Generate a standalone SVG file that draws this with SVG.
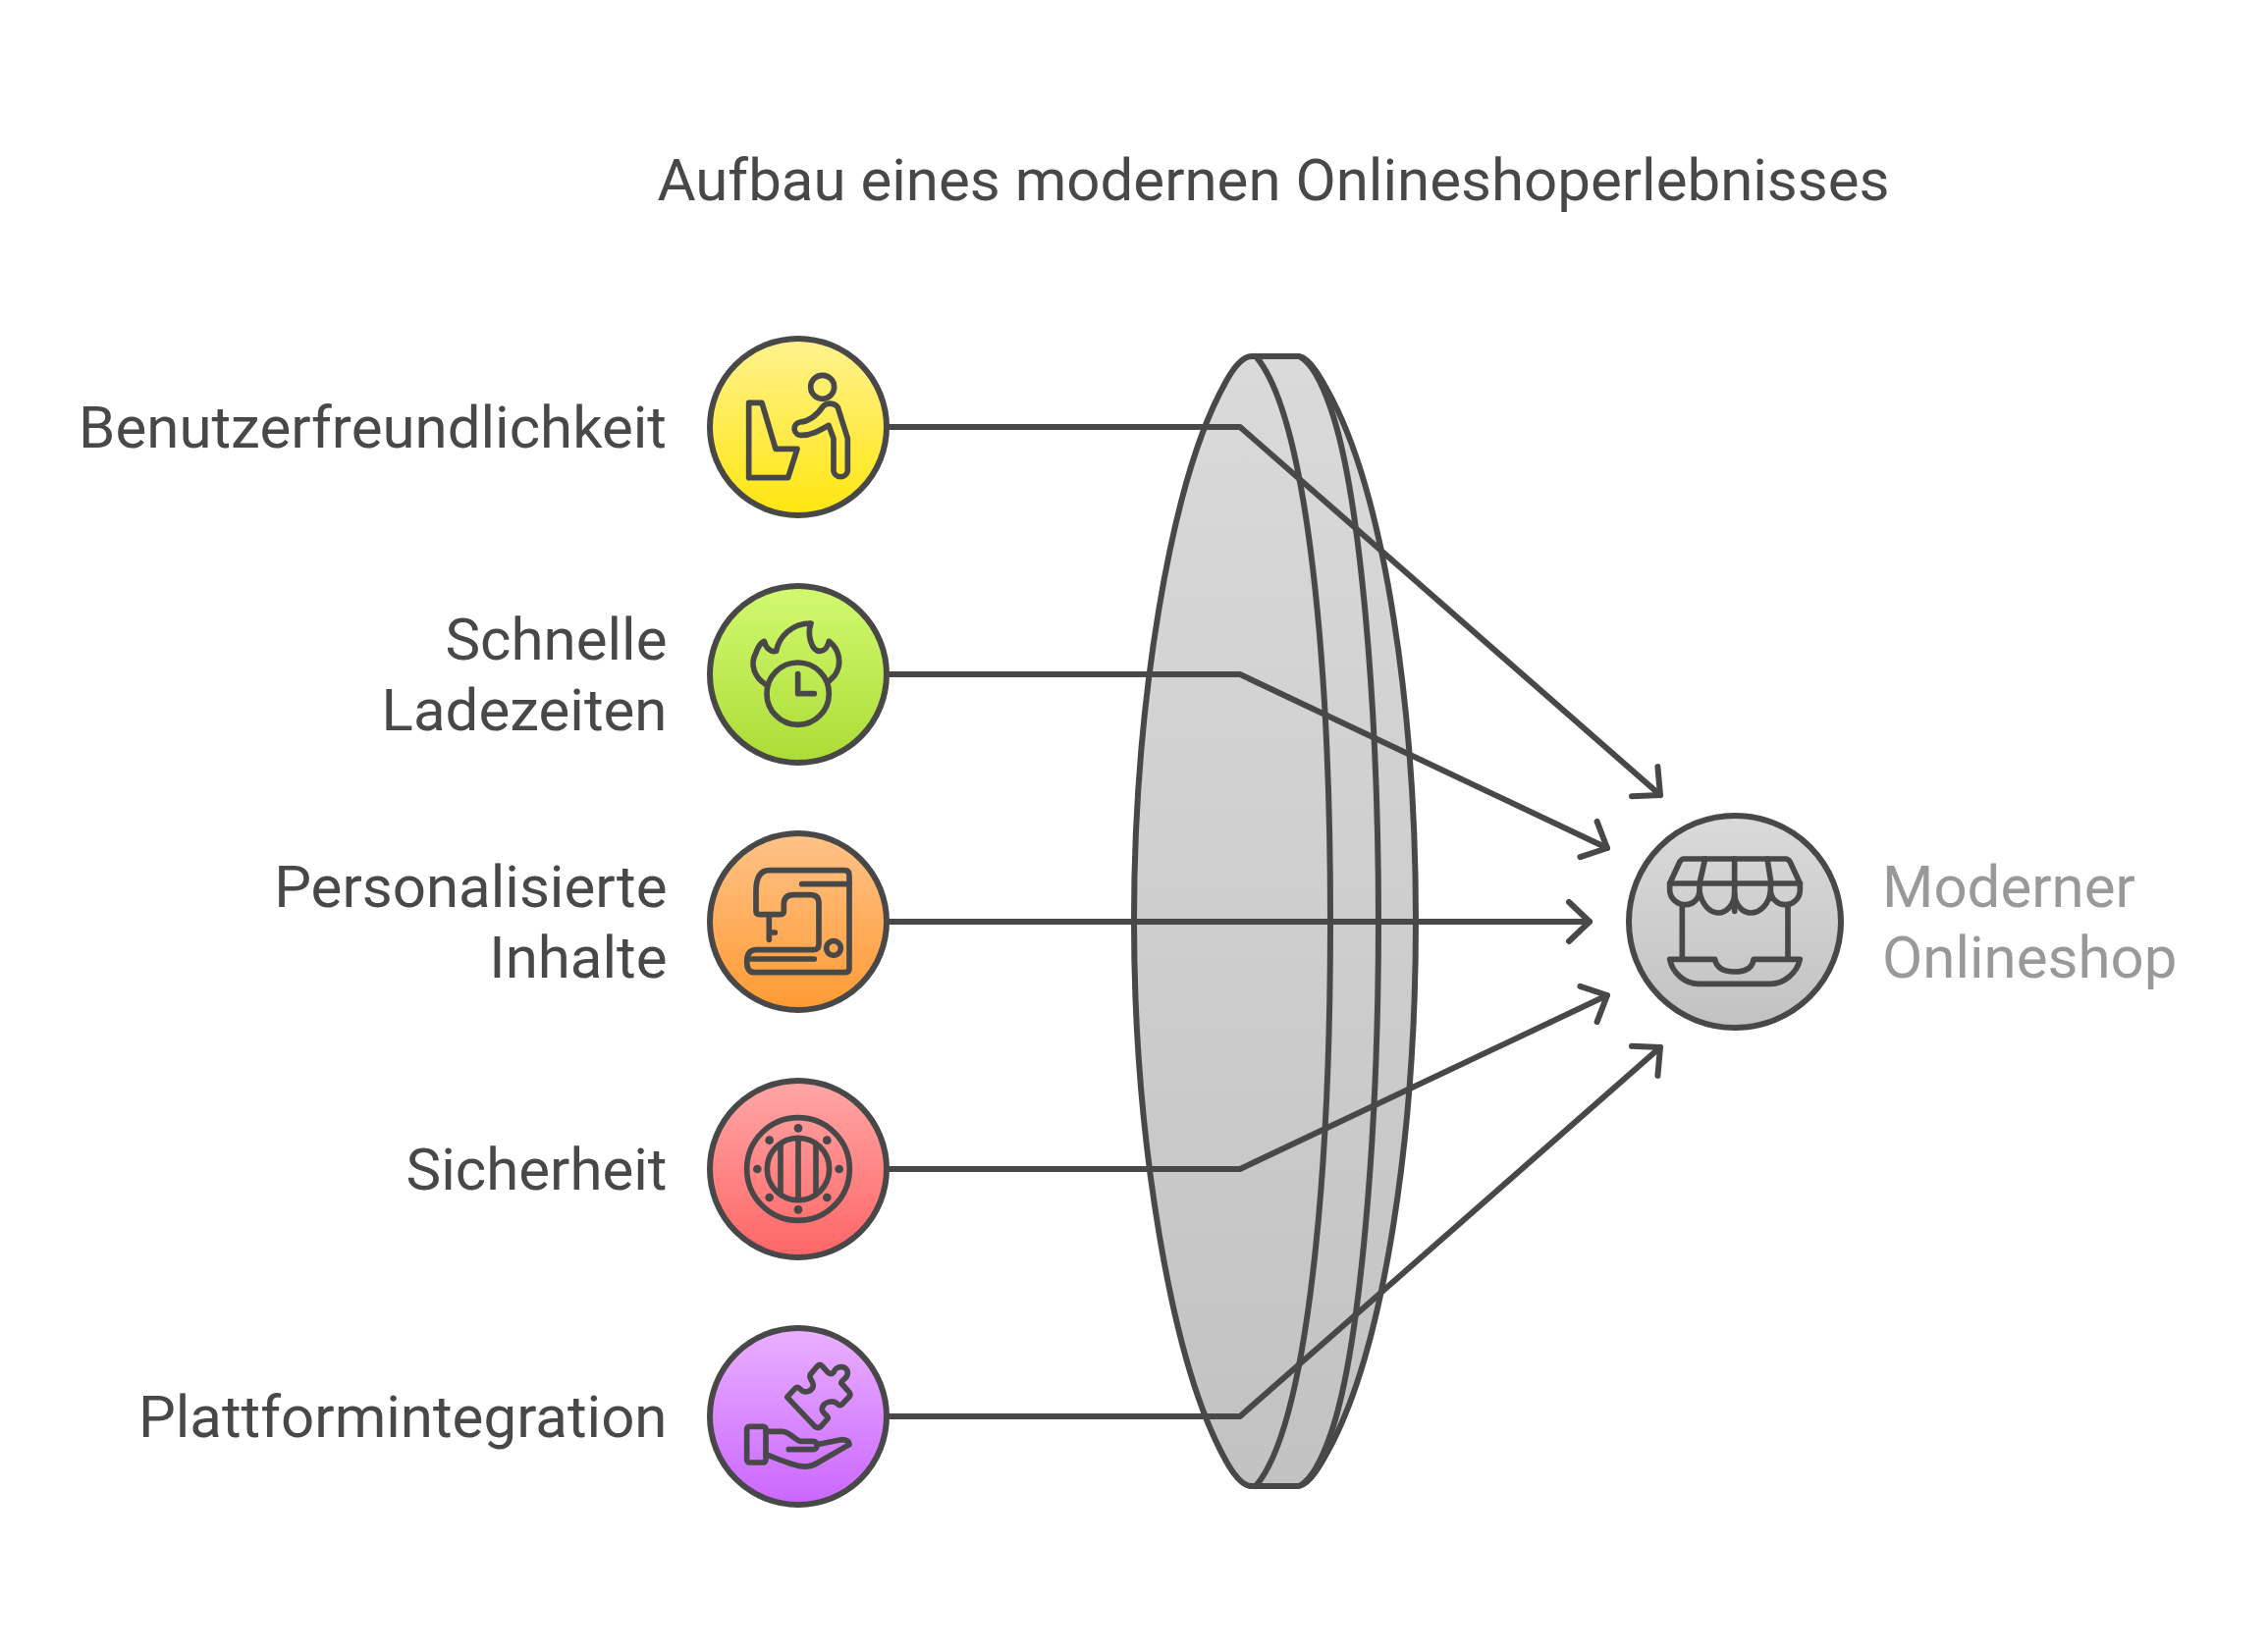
<svg xmlns="http://www.w3.org/2000/svg" width="2310" height="1681" viewBox="0 0 2310 1681">
<style>
.t{font-family:Roboto,"Liberation Sans",sans-serif;font-size:60px;fill:#484848}
.r{text-anchor:end}
.s{fill:none;stroke:#484848;stroke-width:6;stroke-linecap:round;stroke-linejoin:round}
.c{stroke:#484848;stroke-width:6;stroke-linejoin:round}
.i{fill:none;stroke:#484848;stroke-width:17;stroke-linecap:round;stroke-linejoin:round}
.d{fill:#484848}
</style>
<defs>
<linearGradient id="gy" x1="0" y1="0" x2="0" y2="1"><stop offset="0" stop-color="#fff28f"/><stop offset="1" stop-color="#ffe60f"/></linearGradient>
<linearGradient id="gg" x1="0" y1="0" x2="0" y2="1"><stop offset="0" stop-color="#d2f971"/><stop offset="1" stop-color="#acdc35"/></linearGradient>
<linearGradient id="go" x1="0" y1="0" x2="0" y2="1"><stop offset="0" stop-color="#ffc288"/><stop offset="1" stop-color="#ff9a33"/></linearGradient>
<linearGradient id="gr" x1="0" y1="0" x2="0" y2="1"><stop offset="0" stop-color="#ffa6a6"/><stop offset="1" stop-color="#ff6666"/></linearGradient>
<linearGradient id="gp" x1="0" y1="0" x2="0" y2="1"><stop offset="0" stop-color="#e9b0ff"/><stop offset="1" stop-color="#cb66ff"/></linearGradient>
<linearGradient id="gs" x1="0" y1="0" x2="0" y2="1"><stop offset="0" stop-color="#dadada"/><stop offset="1" stop-color="#c2c2c2"/></linearGradient>
<marker id="a" markerUnits="userSpaceOnUse" viewBox="-30 -30 60 60" refX="0" refY="0" markerWidth="60" markerHeight="60" orient="auto"><path class="s" d="M-21 -20L0 0L-21 20"/></marker>
</defs>
<text class="t" x="1297" y="204" text-anchor="middle" id="title">Aufbau eines modernen Onlineshoperlebnisses</text>
<g id="lens">
<path d="M1275 363C1265 363 1255 377 1248 390C1192 490 1155 720 1155 938C1155 1156 1192 1386 1248 1487C1255 1500 1265 1514 1275 1514L1323 1514C1335 1512 1347 1489 1357 1470C1410 1366 1442 1156 1442 938C1442 720 1410 510 1357 407C1347 388 1335 365 1323 363Z" fill="url(#gs)" class="c"/>
<path class="s" d="M1279 363C1332 425 1355 680 1355 938C1355 1196 1332 1452 1279 1514"/>
<path class="s" d="M1325 364C1338 372 1348 395 1355 415C1385 500 1404 720 1404 938C1404 1156 1385 1377 1355 1462C1348 1482 1338 1505 1325 1513"/>
</g>
<g id="connectors">
<path class="s" marker-end="url(#a)" d="M905 435L1263 435L1691 810"/>
<path class="s" marker-end="url(#a)" d="M905 687L1263 687L1637 864"/>
<path class="s" marker-end="url(#a)" d="M905 939L1619 939"/>
<path class="s" marker-end="url(#a)" d="M905 1191L1263 1191L1637 1014"/>
<path class="s" marker-end="url(#a)" d="M905 1443L1263 1443L1691 1067"/>
</g>
<g id="node-benutzer">
<circle cx="813" cy="435" r="90" fill="url(#gy)" class="c"/>
<g transform="translate(700 330) scale(.33333)">
<circle class="i" cx="413" cy="193" r="36"/>
<path class="i" d="M188 241L228 241L270 382L336 382L308 470L188 470Z"/>
<path class="i" d="M345 300C375 298 395 280 415 252C425 240 450 240 460 255L490 350L490 450A22 22 0 0 1 447 450L447 350L432 310C405 325 380 340 350 340A20 20 0 0 1 345 300Z"/>
</g>
<text class="t r" x="679" y="456">Benutzerfreundlichkeit</text>
</g>
<g id="node-ladezeiten">
<circle cx="813" cy="687" r="90" fill="url(#gg)" class="c"/>
<g transform="translate(700 580) scale(.33333)">
<circle class="i" cx="338" cy="380" r="95"/>
<path class="i" d="M338 320L338 380L388 380"/>
<path class="i" d="M240 352C205 330 190 290 210 255C215 240 225 225 235 220C240 240 255 255 272 250C280 205 320 165 378 165C365 200 380 250 405 250C420 250 430 235 433 220C465 245 475 290 450 325L430 345"/>
</g>
<text class="t r" x="679.5" y="672">Schnelle</text>
<text class="t r" x="679.5" y="744">Ladezeiten</text>
</g>
<g id="node-inhalte">
<circle cx="813" cy="939" r="90" fill="url(#go)" class="c"/>
<g transform="translate(700 830) scale(.33333)">
<path class="i" d="M250 170L480 170Q495 170 495 185L495 470Q495 482 480 482L205 482Q182 482 182 450Q182 413 210 413L385 413Q402 413 402 395L402 270Q402 245 375 245L325 245Q295 245 295 275L295 295Q295 305 285 305L220 305Q210 305 210 295L210 235Q210 170 250 170Z"/>
<path class="i" d="M350 212L495 212M250 310L250 382M250 360L268 360M195 441L388 441"/>
<circle class="i" cx="447" cy="408" r="22"/>
</g>
<text class="t r" x="679.5" y="924">Personalisierte</text>
<text class="t r" x="679.5" y="996">Inhalte</text>
</g>
<g id="node-sicherheit">
<circle cx="813" cy="1191" r="90" fill="url(#gr)" class="c"/>
<g transform="translate(700 1085) scale(.33333)">
<circle class="i" cx="339" cy="318" r="157"/>
<circle class="i" cx="339" cy="318" r="95"/>
<path class="i" stroke-linecap="butt" d="M285 245L285 390M339 225L339 411M393 245L393 390"/>
<g class="d"><circle cx="339" cy="193" r="13"/><circle cx="427" cy="230" r="13"/><circle cx="464" cy="318" r="13"/><circle cx="427" cy="405" r="13"/><circle cx="339" cy="442" r="13"/><circle cx="251" cy="405" r="13"/><circle cx="214" cy="318" r="13"/><circle cx="251" cy="230" r="13"/></g>
</g>
<text class="t r" x="679.5" y="1212">Sicherheit</text>
</g>
<g id="node-plattform">
<circle cx="813" cy="1443" r="90" fill="url(#gp)" class="c"/>
<g transform="translate(700 1335) scale(.33333)">
<path class="i" d="M305 265L330 238Q338 232 345 240C360 258 385 245 385 228C385 215 370 208 376 196L398 170Q405 163 412 170L430 190Q440 198 448 188C452 170 490 165 490 192C490 210 470 212 470 222L495 250Q500 258 495 264L472 288Q465 293 458 285C445 272 415 280 412 300C410 315 430 320 430 330L408 355Q400 362 390 355Z"/>
<rect class="i" x="182" y="355" width="58" height="110" rx="8"/>
<path class="i" d="M240 370L290 370C310 370 330 395 345 400L385 400C400 400 400 425 385 425L310 425M395 410L470 395Q495 395 495 410L400 465C360 490 330 475 240 440"/>
</g>
<text class="t r" x="679.5" y="1464">Plattformintegration</text>
</g>
<g id="node-shop">
<circle cx="1767" cy="939" r="108" fill="url(#gs)" class="c"/>
<g transform="translate(1640 800) scale(.33333)">
<path class="i" d="M225 225L535 225Q545 225 550 235L580 300L182 300L212 235Q218 225 225 225Z"/>
<path class="i" d="M380 225L380 385M290 225L273 300M480 225L492 300"/>
<path class="i" d="M182 300L182 320C182 345 205 365 230 365C255 365 273 345 273 320L273 300M273 325C280 365 305 390 330 390C355 390 380 365 380 330M380 330C380 365 405 390 430 390C455 390 488 365 490 320L490 300M490 320C490 345 510 365 535 365C560 365 580 345 580 320L580 300"/>
<path class="i" d="M220 370L220 530M543 370L543 530"/>
<path class="i" d="M182 532L320 532C325 560 350 570 380 570C410 570 435 560 438 532L580 532C570 575 530 607 490 607L270 607C230 607 190 575 182 532Z"/>
</g>
<text class="t" x="1917" y="924" style="fill:#999">Moderner</text>
<text class="t" x="1917" y="996" style="fill:#999">Onlineshop</text>
</g>
</svg>
